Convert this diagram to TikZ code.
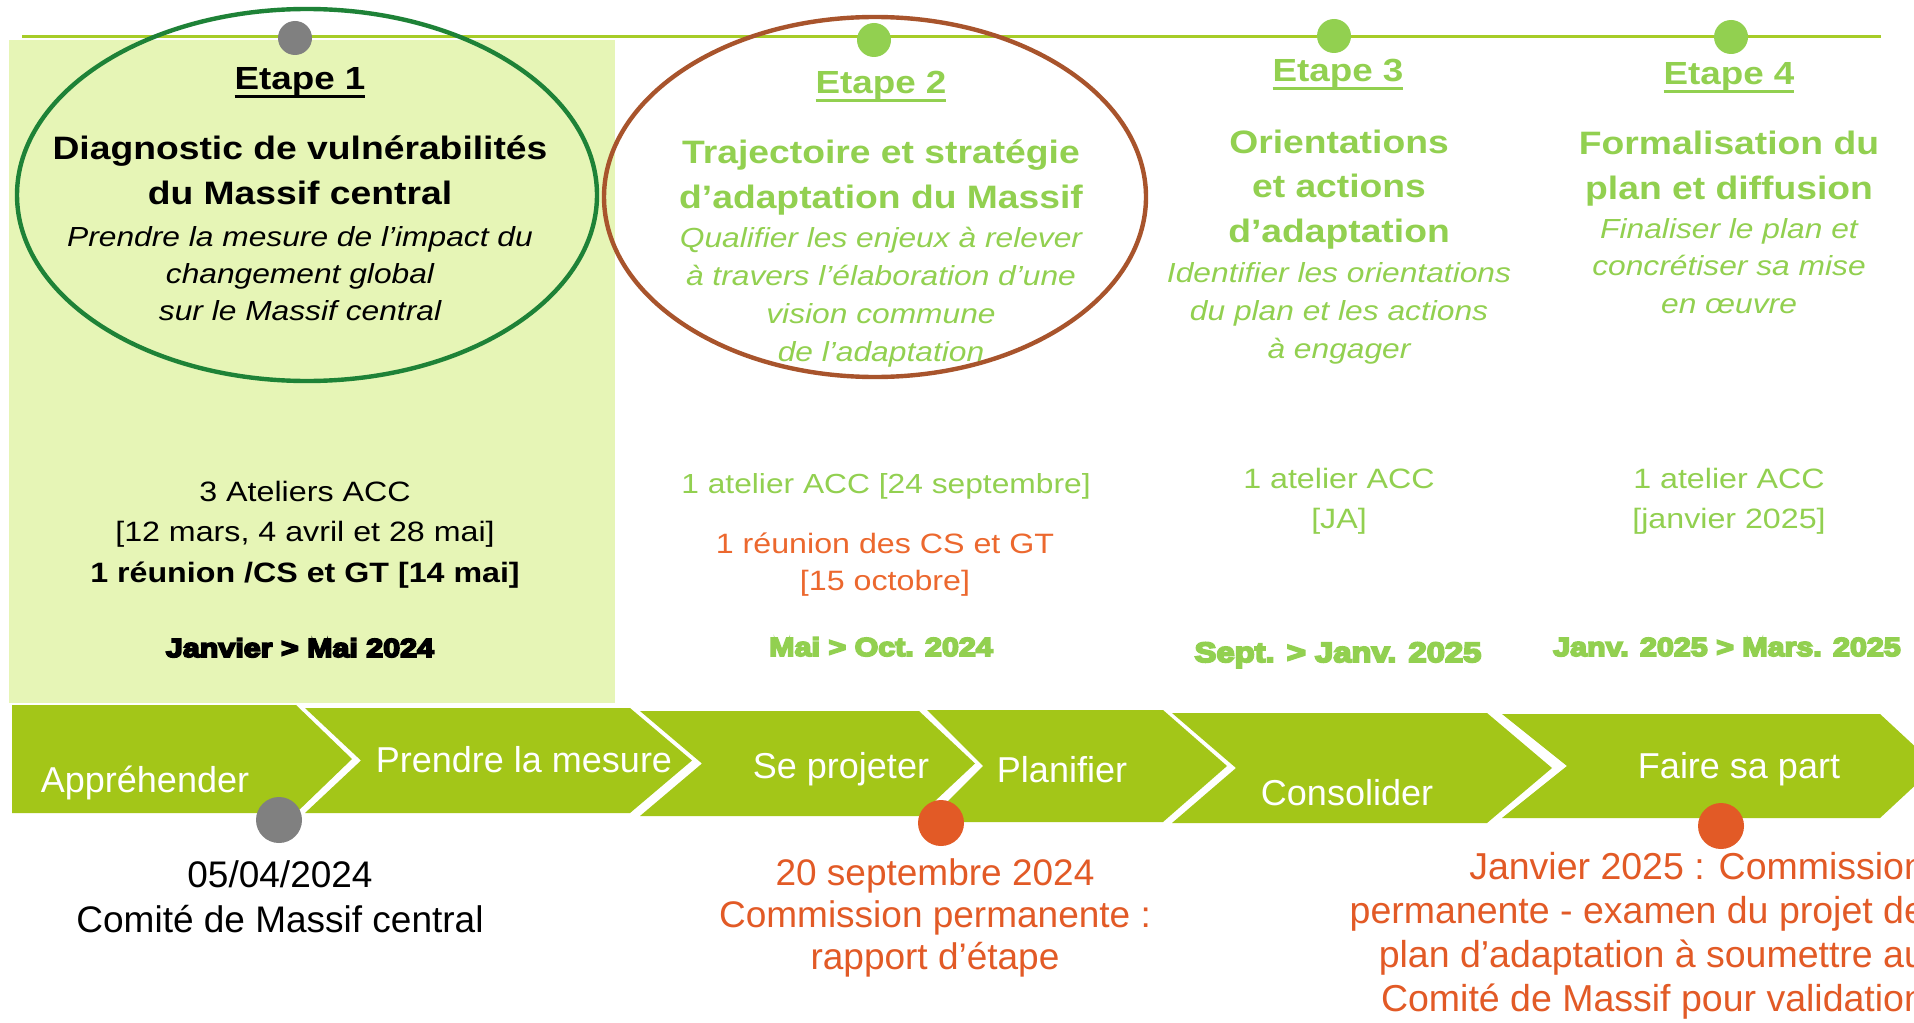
\documentclass[tikz,border=0pt]{standalone}
\usepackage{fontspec}
\setmainfont{Liberation Sans}
\newfontfamily\upf{Liberation Sans}[FakeStretch=1.15]
\newfontfamily\heavyf{Liberation Sans}[FakeStretch=1.17,FakeBold=7]
\definecolor{chev}{RGB}{163,198,24}
\definecolor{lgreen}{RGB}{146,208,80}
\definecolor{boxgreen}{RGB}{230,245,182}
\definecolor{ringgreen}{RGB}{30,130,55}
\definecolor{ringbrown}{RGB}{168,84,44}
\definecolor{orng}{RGB}{226,90,38}
\definecolor{orng2}{RGB}{236,104,46}
\definecolor{dotgrey}{RGB}{128,128,128}
\definecolor{topline}{RGB}{166,204,40}
\newcommand\mlines[2][c]{\begin{tabular}[t]{@{}#1@{}}#2\end{tabular}}
\newcommand\ulbox[1]{\setbox0=\hbox{#1}\rlap{\raisebox{-3.8pt}{\rule{\wd0}{1.4pt}}}\box0}
\begin{document}
\begin{tikzpicture}[x=0.5pt,y=-0.5pt,
  every node/.style={inner sep=0pt,outer sep=0pt},
  stage/.style={anchor=base,font=\upf\bfseries\fontsize{16}{20}\selectfont},
  ttl/.style={anchor=base,font=\upf\bfseries\fontsize{16.2}{22.5}\selectfont},
  sub/.style={anchor=base,font=\upf\itshape\fontsize{13.8}{19}\selectfont},
  mid/.style={anchor=base,font=\upf\fontsize{14}{20}\selectfont},
  per/.style={anchor=base,font=\heavyf\bfseries\fontsize{13}{16}\selectfont},
  chevtxt/.style={anchor=base,text=white,font=\fontsize{18}{22}\selectfont},
  low/.style={anchor=base,font=\fontsize{18.5}{22.5}\selectfont},
  chevron/.style={fill=chev},
  topdot/.style={circle,minimum size=17pt},
  lowdot/.style={circle,minimum size=23pt}]
\clip (0,0) rectangle (1914,1022);
\fill[white] (0,0) rectangle (1914,1022);
% stage 1 background
\fill[boxgreen] (9,40) rectangle (615,703);
% timeline
\coordinate (tlstart) at (22,37);
\coordinate (tlend) at (1881,37);
\draw[topline,line width=1.5pt] (tlstart) -- (tlend);
% rings
\draw[ringgreen,line width=2.2pt] (307,195) ellipse [x radius=290,y radius=186];
\draw[ringbrown,line width=2.2pt] (875,197) ellipse [x radius=271,y radius=180];
% top dots
\node[topdot,fill=dotgrey] (sd1) at (295,38) {};
\node[topdot,fill=lgreen] (sd2) at (874,40) {};
\node[topdot,fill=lgreen] (sd3) at (1334,36) {};
\node[topdot,fill=lgreen] (sd4) at (1731,37) {};
% Etape 1
\node[stage] (e1) at (300,90) {\ulbox{Etape 1}};
\node[ttl] (t1) at (300,159) {\mlines{Diagnostic de vulnérabilités\\du Massif central}};
\node[sub,font=\upf\itshape\fontsize{13.8}{18.5}\selectfont] (s1) at (300,246) {\mlines{Prendre la mesure de l’impact du\\changement global\\sur le Massif central}};
\node[mid,font=\upf\fontsize{14}{20.25}\selectfont] (m1) at (305,501) {\mlines{3 Ateliers ACC\\{}[12 mars, 4 avril et 28 mai]\\\textbf{1 réunion /CS et GT [14 mai]}}};
\node[per] (p1) at (300,657) {Janvier > Mai 2024};
% Etape 2
\node[stage,text=lgreen] (e2) at (881,94) {\ulbox{Etape 2}};
\node[ttl,text=lgreen] (t2) at (881,163) {\mlines{Trajectoire et stratégie\\d’adaptation du Massif}};
\node[sub,text=lgreen] (s2) at (881,247) {\mlines{Qualifier les enjeux à relever\\à travers l’élaboration d’une\\vision commune\\de l’adaptation}};
\node[mid,text=lgreen,font=\upf\fontsize{13.8}{20}\selectfont] (m2) at (886,493) {1 atelier ACC [24 septembre]};
\node[mid,text=orng2,font=\upf\fontsize{14}{18.5}\selectfont] (r2) at (885,553) {\mlines{1 réunion des CS et GT\\{}[15 octobre]}};
\node[per,text=lgreen] (p2) at (881,656) {Mai > Oct. 2024};
% Etape 3
\node[stage,text=lgreen] (e3) at (1338,82) {\ulbox{Etape 3}};
\node[ttl,text=lgreen,font=\upf\bfseries\fontsize{16.2}{22.25}\selectfont] (t3) at (1339,153) {\mlines{Orientations\\et actions\\d’adaptation}};
\node[sub,text=lgreen] (s3) at (1339,282) {\mlines{Identifier les orientations\\du plan et les actions\\à engager}};
\node[mid,text=lgreen] (m3) at (1339,488) {\mlines{1 atelier ACC\\{}[JA]}};
\node[per,text=lgreen,font=\heavyf\bfseries\fontsize{14}{16}\selectfont] (p3) at (1338,662) {Sept. > Janv. 2025};
% Etape 4
\node[stage,text=lgreen] (e4) at (1729,85) {\ulbox{Etape 4}};
\node[ttl,text=lgreen] (t4) at (1729,154) {\mlines{Formalisation du\\plan et diffusion}};
\node[sub,text=lgreen,font=\upf\itshape\fontsize{13.8}{18.75}\selectfont] (s4) at (1729,238) {\mlines{Finaliser le plan et\\concrétiser sa mise\\en œuvre}};
\node[mid,text=lgreen] (m4) at (1729,488) {\mlines{1 atelier ACC\\{}[janvier 2025]}};
\node[per,text=lgreen] (p4) at (1727,656) {Janv. 2025 > Mars. 2025};
% chevrons
\fill[chevron] (12,705)--(296,705)--(352,759)--(296,813)--(12,813)--cycle;
\fill[chevron] (305,708)--(630,708)--(692,760.5)--(630,813)--(305,813)--(361,760.5)--cycle;
\fill[chevron] (640,711)--(919,711)--(975,763.5)--(919,816)--(640,816)--(702,763.5)--cycle;
\fill[chevron] (927,710)--(1163,710)--(1227,766)--(1163,822)--(927,822)--(983,766)--cycle;
\fill[chevron] (1172,713)--(1487,713)--(1552,768)--(1487,823)--(1172,823)--(1236,768)--cycle;
\fill[chevron] (1502,714)--(1880,714)--(1936,766)--(1880,818)--(1502,818)--(1567,766)--cycle;
\node[chevtxt] (c1) at (145,792) {Appréhender};
\node[chevtxt] (c2) at (524,772) {Prendre la mesure};
\node[chevtxt] (c3) at (841,778) {Se projeter};
\node[chevtxt] (c4) at (1062,782) {Planifier};
\node[chevtxt] (c5) at (1347,805) {Consolider};
\node[chevtxt] (c6) at (1739,778) {Faire sa part};
% lower dots
\node[lowdot,fill=dotgrey] (ld1) at (279,820) {};
\node[lowdot,fill=orng] (ld2) at (941,823) {};
\node[lowdot,fill=orng] (ld3) at (1721,826) {};
% lower texts
\node[low] (b1) at (280,887) {\mlines{05/04/2024\\Comité de Massif central}};
\node[low,text=orng,font=\fontsize{18.5}{21}\selectfont] (b2) at (935,885) {\mlines{20 septembre 2024\\Commission permanente :\\rapport d’étape}};
\node[low,text=orng,anchor=base east,font=\fontsize{18.75}{22}\selectfont] (b3) at (1925,879) {\mlines[r]{Janvier 2025 : Commission\\permanente - examen du projet de\\plan d’adaptation à soumettre au\\Comité de Massif pour validation}};
\end{tikzpicture}
\end{document}
